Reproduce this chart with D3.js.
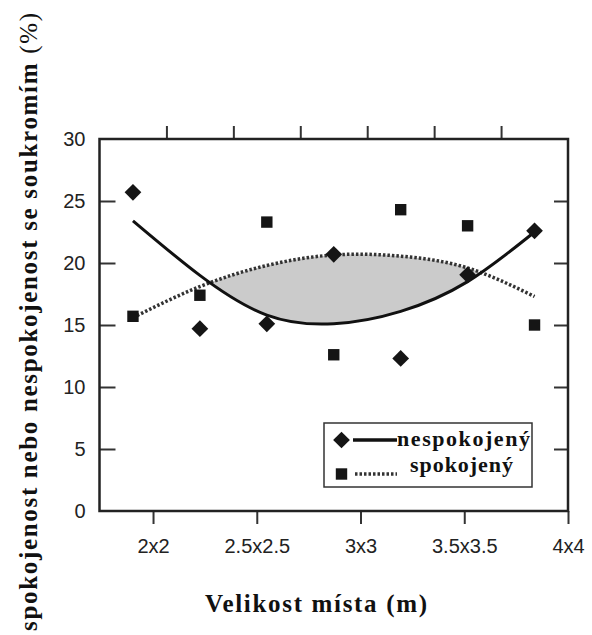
<!DOCTYPE html>
<html>
<head>
<meta charset="utf-8">
<script src="https://cdn.jsdelivr.net/npm/d3@7"></script>
<style>
  body { margin: 0; background: #fff; }
  .tick text { font-family: "Liberation Sans", Arial, sans-serif; font-size: 20px; fill: #222; }
  .tick line { stroke: #333; stroke-width: 2; }
  .domain { display: none; }
  .serif { font-family: "Liberation Serif", "DejaVu Serif", "Times New Roman", serif; fill: #111; }
</style>
</head>
<body>
<div id="chart"></div>
<script>
// measurement positions along the size range (one per site)
const siteIndex = [0, 1, 2, 3, 4, 5, 6];
const nespokojeny = [25.7, 14.7, 15.1, 20.7, 12.3, 19.05, 22.6];
const spokojeny = [15.7, 17.4, 23.3, 12.6, 24.3, 23.0, 15.0];
// trend curves
const trendNespokojeny = [23.4, 19.0, 15.8, 15.1, 16.1, 18.5, 22.5];
const trendSpokojeny = [15.6, 18.1, 19.8, 20.65, 20.55, 19.6, 17.3];

const sizeTicks = [2, 2.5, 3, 3.5, 4];
const sizeLabels = ["2x2", "2.5x2.5", "3x3", "3.5x3.5", "4x4"];
const topTicks = [0.5, 1.5, 2.5, 3.5, 4.5, 5.5];
const yTicks = [0, 5, 10, 15, 20, 25, 30];
const yInnerTicks = [5, 10, 15, 20, 25];

const W = 592, H = 635;
const pLeft = 99.5, pRight = 568, pTop = 139, pBottom = 511;

const svg = d3.select("#chart").append("svg")
  .attr("width", W).attr("height", H);

const y = d3.scaleLinear().domain([0, 30]).range([pBottom, pTop]);
const xi = d3.scaleLinear().domain([-0.5, 6.5]).range([pLeft, pRight]);
const xs = d3.scaleLinear().domain([1.742, 4]).range([pLeft, pRight]);

// shaded region between the trend curves
const defs = svg.append("defs");
defs.append("clipPath").attr("id", "aboveSolid")
  .append("path")
  .attr("d", d3.area()
    .x((d, i) => xi(siteIndex[i]))
    .y0(pTop)
    .y1((d) => y(d))
    .curve(d3.curveNatural)(trendNespokojeny));

svg.append("path")
  .attr("clip-path", "url(#aboveSolid)")
  .attr("fill", "#cbcbcb")
  .attr("d", d3.area()
    .x((d, i) => xi(siteIndex[i]))
    .y0(pBottom)
    .y1((d) => y(d))
    .curve(d3.curveNatural)(trendSpokojeny));

// axes
svg.append("g")
  .attr("transform", "translate(" + pLeft + ",0)")
  .call(d3.axisLeft(y).tickValues(yTicks).tickSize(-16).tickPadding(14))
  .call((g) => g.selectAll(".tick line").filter((d) => d === 0 || d === 30).remove());

svg.append("g")
  .attr("transform", "translate(" + pRight + ",0)")
  .call(d3.axisRight(y).tickValues(yInnerTicks).tickSize(-14).tickFormat(""));

svg.append("g")
  .attr("transform", "translate(0," + pTop + ")")
  .call(d3.axisTop(xi).tickValues(topTicks).tickSize(13).tickFormat(""));

svg.append("g")
  .attr("transform", "translate(0," + pBottom + ")")
  .call(d3.axisBottom(xs).tickValues(sizeTicks).tickSize(13).tickPadding(15)
    .tickFormat((d, i) => sizeLabels[i]));

// frame
svg.append("rect")
  .attr("x", pLeft).attr("y", pTop)
  .attr("width", pRight - pLeft).attr("height", pBottom - pTop)
  .attr("fill", "none").attr("stroke", "#222").attr("stroke-width", 2.5);

// trend lines
const line = d3.line()
  .x((d, i) => xi(siteIndex[i]))
  .y((d) => y(d))
  .curve(d3.curveNatural);

svg.append("path")
  .attr("d", line(trendSpokojeny))
  .attr("fill", "none").attr("stroke", "#333")
  .attr("stroke-width", 3.5).attr("stroke-dasharray", "2.5,2");

svg.append("path")
  .attr("d", line(trendNespokojeny))
  .attr("fill", "none").attr("stroke", "#111")
  .attr("stroke-width", 3);

// markers
const diamond = d3.symbol().type(d3.symbolSquare).size(140);
const square = d3.symbol().type(d3.symbolSquare).size(130);

svg.append("g").selectAll("path")
  .data(spokojeny)
  .join("path")
  .attr("d", square)
  .attr("transform", (d, i) => "translate(" + xi(siteIndex[i]) + "," + y(d) + ")")
  .attr("fill", "#151515");

svg.append("g").selectAll("path")
  .data(nespokojeny)
  .join("path")
  .attr("d", diamond)
  .attr("transform", (d, i) => "translate(" + xi(siteIndex[i]) + "," + y(d) + ") rotate(45)")
  .attr("fill", "#151515");

// legend
const lg = svg.append("g");
lg.append("rect")
  .attr("x", 324).attr("y", 423).attr("width", 208).attr("height", 64)
  .attr("fill", "#fff").attr("stroke", "#333").attr("stroke-width", 1.5);
lg.append("path").attr("d", diamond)
  .attr("transform", "translate(341.5,440) rotate(45)").attr("fill", "#151515");
lg.append("line").attr("x1", 353).attr("x2", 397).attr("y1", 440).attr("y2", 440)
  .attr("stroke", "#111").attr("stroke-width", 3.5);
lg.append("path").attr("d", square)
  .attr("transform", "translate(341.5,474)").attr("fill", "#151515");
lg.append("line").attr("x1", 355).attr("x2", 397).attr("y1", 474).attr("y2", 474)
  .attr("stroke", "#333").attr("stroke-width", 3.5).attr("stroke-dasharray", "2.5,2");
lg.append("text").attr("class", "serif").attr("x", 397).attr("y", 446)
  .attr("textLength", 133).attr("lengthAdjust", "spacing")
  .style("font-size", "22px").style("font-weight", "bold")
  .text("nespokojený");
lg.append("text").attr("class", "serif").attr("x", 410).attr("y", 472)
  .attr("textLength", 103).attr("lengthAdjust", "spacing")
  .style("font-size", "22px").style("font-weight", "bold")
  .text("spokojený");

// axis titles
svg.append("text").attr("class", "serif")
  .attr("x", 205).attr("y", 612)
  .attr("textLength", 222).attr("lengthAdjust", "spacing")
  .style("font-size", "25px").style("font-weight", "bold")
  .text("Velikost místa (m)");

const yt = svg.append("text").attr("class", "serif")
  .attr("transform", "translate(37,631) rotate(-90)")
  .attr("textLength", 618).attr("lengthAdjust", "spacing")
  .style("font-size", "25px");
yt.append("tspan").style("font-weight", "bold")
  .text("spokojenost nebo nespokojenost se soukromím ");
yt.append("tspan").text("(%)");
</script>
</body>
</html>
